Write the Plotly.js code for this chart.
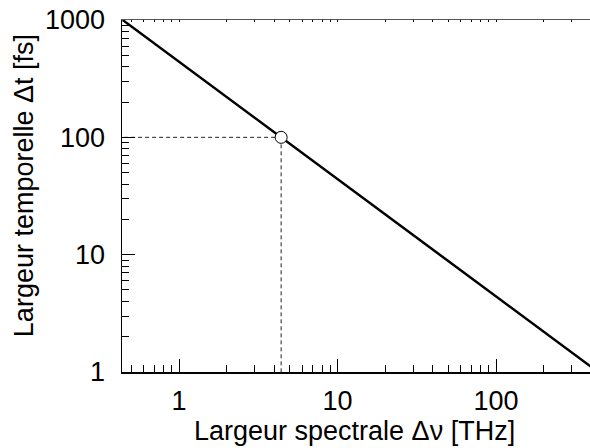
<!DOCTYPE html>
<html>
<head>
<meta charset="utf-8">
<script src="https://cdn.plot.ly/plotly-3.0.1.min.js"></script>
<style>html,body{margin:0;padding:0;background:#fff;}#chart{width:590px;height:448px;}</style>
</head>
<body>
<div id="chart"></div>
<script>
// Spectral width (THz) vs. transform-limited pulse duration (fs)
const spectralWidth = [0.441, 1, 4.41, 10, 44.1, 100, 441];
const pulseDuration = [1000, 441, 100, 44.1, 10, 4.41, 1];
// Highlighted point
const markNu = [4.41];
const markDt = [100];
// Guide lines to the axes
const guideHx = [0.3, 4.41];
const guideHy = [100, 100];
const guideVx = [4.41, 4.41];
const guideVy = [100, 0.5];
const xTickVals = [1, 10, 100];
const xTickText = ['1', '10', '100'];
const yTickVals = [1, 10, 100, 1000];
const yTickText = ['1', '10', '100', '1000'];
const xTitle = 'Largeur spectrale \u0394\u03bd [THz]';
const yTitle = 'Largeur temporelle \u0394t [fs]';

const font = 'Liberation Sans, Arial, Helvetica, sans-serif';

const traces = [
  {x: guideHx, y: guideHy, mode: 'lines', line: {color: '#222', width: 1, dash: '4px,3px'}, hoverinfo: 'skip'},
  {x: guideVx, y: guideVy, mode: 'lines', line: {color: '#222', width: 1, dash: '4px,3px'}, hoverinfo: 'skip'},
  {x: spectralWidth, y: pulseDuration, mode: 'lines', line: {color: '#000', width: 2.5}},
  {x: markNu, y: markDt, mode: 'markers', marker: {symbol: 'circle', size: 12, color: '#fff', line: {color: '#000', width: 1}}},
  {x: spectralWidth, y: pulseDuration, xaxis: 'x2', mode: 'lines', line: {width: 0}, opacity: 0, hoverinfo: 'skip'}
];

const xr = [-0.3596, 2.593];
const layout = {
  width: 590, height: 448,
  margin: {l: 122, r: 0, t: 20, b: 76},
  paper_bgcolor: '#fff', plot_bgcolor: '#fff',
  showlegend: false,
  font: {family: font, color: '#000'},
  xaxis: {
    type: 'log', range: xr,
    tickvals: xTickVals, ticktext: xTickText,
    ticks: 'inside', ticklen: 13, tickwidth: 1, tickcolor: '#000',
    minor: {ticks: 'inside', ticklen: 7, tickwidth: 1, tickcolor: '#000', dtick: 'D1', showgrid: false},
    showline: true, linecolor: '#000', linewidth: 1.5,
    showgrid: false, zeroline: false,
    tickfont: {size: 27, family: font},
    ticklabelstandoff: 4
  },
  xaxis2: {
    type: 'log', range: xr, overlaying: 'x', side: 'top',
    ticks: 'inside', ticklen: 2, tickcolor: '#000', tickvals: xTickVals, showticklabels: false,
    minor: {ticks: 'inside', ticklen: 2, tickcolor: '#000', dtick: 'D1', showgrid: false},
    showline: true, linecolor: '#555', linewidth: 1.5,
    showgrid: false, zeroline: false
  },
  yaxis: {
    type: 'log', range: [0, 3],
    tickvals: yTickVals, ticktext: yTickText,
    ticks: 'inside', ticklen: 13, tickwidth: 1, tickcolor: '#000',
    minor: {ticks: 'inside', ticklen: 7, tickwidth: 1, tickcolor: '#000', dtick: 'D1', showgrid: false},
    showline: true, linecolor: '#000', linewidth: 1.5,
    showgrid: false, zeroline: false,
    tickfont: {size: 27, family: font},
    ticklabelstandoff: 10
  },
  annotations: [
    {text: xTitle, xref: 'paper', yref: 'paper', x: 0.497, y: -0.1676, xanchor: 'center', yanchor: 'middle',
     showarrow: false, font: {size: 27, family: font, color: '#000'}},
    {text: yTitle, xref: 'paper', yref: 'paper', x: -0.2094, y: 0.528, xanchor: 'center', yanchor: 'middle',
     textangle: -90, showarrow: false, font: {size: 27, family: font, color: '#000'}}
  ]
};

Plotly.newPlot('chart', traces, layout, {staticPlot: true, displayModeBar: false});
</script>
</body>
</html>
